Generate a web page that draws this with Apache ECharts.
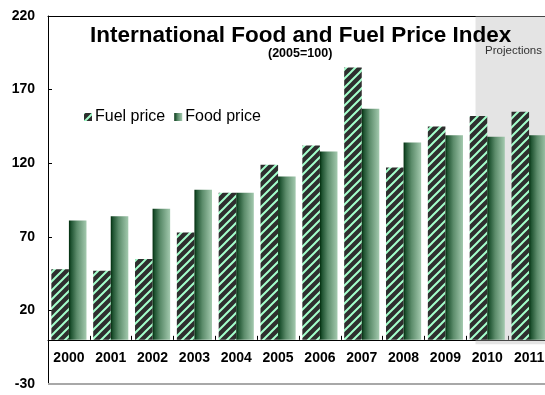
<!DOCTYPE html>
<html>
<head>
<meta charset="utf-8">
<script src="https://cdn.jsdelivr.net/npm/echarts@6/dist/echarts.min.js"></script>
<style>
html,body{margin:0;padding:0;background:#fff;}
#chart{width:545px;height:395px;}
</style>
</head>
<body>
<div id="chart"></div>
<script>
const categories = ['2000','2001','2002','2003','2004','2005','2006','2007','2008','2009','2010','2011'];
const fuelPrice = [48, 47, 55, 73, 100, 119, 132, 185, 117, 145, 152, 155];
const foodPrice = [81, 84, 89, 102, 100, 111, 128, 157, 134, 139, 138, 139];
const yMin = -30, yMax = 220, yStep = 50;
const projectionRange = [10.22, 12];   // category-index span shaded as projections
const projectionYRange = [-3, 220];

const FONT = '"Liberation Sans", Arial, sans-serif';
const GRID = {left: 48, top: 16, width: 502, height: 368};
// category axis sits on the value 0: shift it up from the grid bottom by the scale's own ratio
const zeroOffset = -((0 - yMin) / (yMax - yMin)) * GRID.height;

function stripePattern() {
  const s = 9;
  const c = document.createElement('canvas');
  c.width = s; c.height = s;
  const g = c.getContext('2d');
  g.fillStyle = '#2e2e2e';
  g.fillRect(0, 0, s, s);
  g.strokeStyle = '#a3ffcb';
  g.lineWidth = 2;
  g.beginPath();
  g.moveTo(0, s); g.lineTo(s, 0);
  g.moveTo(-s / 2, s / 2); g.lineTo(s / 2, -s / 2);
  g.moveTo(s / 2, s * 1.5); g.lineTo(s * 1.5, s / 2);
  g.stroke();
  return c;
}

const foodGradient = {
  type: 'linear', x: 0, y: 0, x2: 1, y2: 0,
  colorStops: [
    {offset: 0, color: '#002b0c'},
    {offset: 0.12, color: '#1e5230'},
    {offset: 0.45, color: '#5c8c6b'},
    {offset: 1, color: '#a3c9ae'}
  ]
};

const chart = echarts.init(document.getElementById('chart'), null, {renderer: 'canvas'});
chart.setOption({
  animation: false,
  textStyle: {fontFamily: FONT},
  title: [
    {text: 'International Food and Fuel Price Index', left: 90, top: 24, padding: 0,
     textStyle: {fontFamily: FONT, fontSize: 22.5, fontWeight: 'bold', color: '#000'}},
    {text: '(2005=100)', left: 268, top: 47, padding: 0,
     textStyle: {fontFamily: FONT, fontSize: 12.5, fontWeight: 'bold', color: '#000'}},
    {text: 'Projections', right: 3, top: 45, padding: 0,
     textStyle: {fontFamily: FONT, fontSize: 11.5, fontWeight: 'normal', color: '#333'}}
  ],
  legend: {
    data: ['Fuel price', 'Food price'],
    left: 84, top: 109, padding: 0,
    itemWidth: 8, itemHeight: 8, itemGap: 9,
    icon: 'rect',
    textStyle: {fontFamily: FONT, fontSize: 16, color: '#000', padding: [0, 0, 0, -2]}
  },
  grid: Object.assign({containLabel: false, outerBoundsMode: 'none'}, GRID),
  xAxis: [
    {type: 'category', data: categories, position: 'bottom', offset: zeroOffset,
     axisLine: {onZero: false, lineStyle: {color: '#000', width: 1}},
     axisTick: {show: true, inside: true, length: 4, lineStyle: {color: '#000'}},
     axisLabel: {margin: 11, fontFamily: FONT, fontSize: 14, fontWeight: 'bold', color: '#000'},
     splitLine: {show: false}},
    {type: 'category', data: categories, position: 'top',
     axisLine: {onZero: false, lineStyle: {color: '#000', width: 1}},
     axisTick: {show: false}, axisLabel: {show: false}, splitLine: {show: false}},
    {type: 'value', min: 0, max: 12, show: false}
  ],
  yAxis: {
    type: 'value', min: yMin, max: yMax, interval: yStep,
    axisLine: {show: true, onZero: false, lineStyle: {color: '#000', width: 1}},
    axisTick: {show: true, inside: true, length: 4, lineStyle: {color: '#000'}},
    axisLabel: {margin: 13, fontFamily: FONT, fontSize: 14, fontWeight: 'bold', color: '#000'},
    splitLine: {show: false}
  },
  series: [
    {name: 'Fuel price', type: 'bar', data: fuelPrice, xAxisIndex: 0,
     barGap: '0%', barCategoryGap: '16%',
     itemStyle: {color: {image: stripePattern(), repeat: 'repeat'}}},
    {name: 'Food price', type: 'bar', data: foodPrice, xAxisIndex: 0,
     barGap: '0%', barCategoryGap: '16%',
     itemStyle: {color: foodGradient}},
    {name: 'overlay', type: 'line', xAxisIndex: 2, data: [], z: 10, silent: true,
     markArea: {silent: true, itemStyle: {color: 'rgba(184,184,184,0.38)'},
       data: [[{coord: [projectionRange[0], projectionYRange[1]]}, {coord: [projectionRange[1], projectionYRange[0]]}]]},
     markLine: {silent: true, symbol: 'none', label: {show: false},
       lineStyle: {color: '#a8a8a8', width: 2, type: 'solid'},
       data: [{yAxis: yMin}]}}
  ]
});
</script>
</body>
</html>
